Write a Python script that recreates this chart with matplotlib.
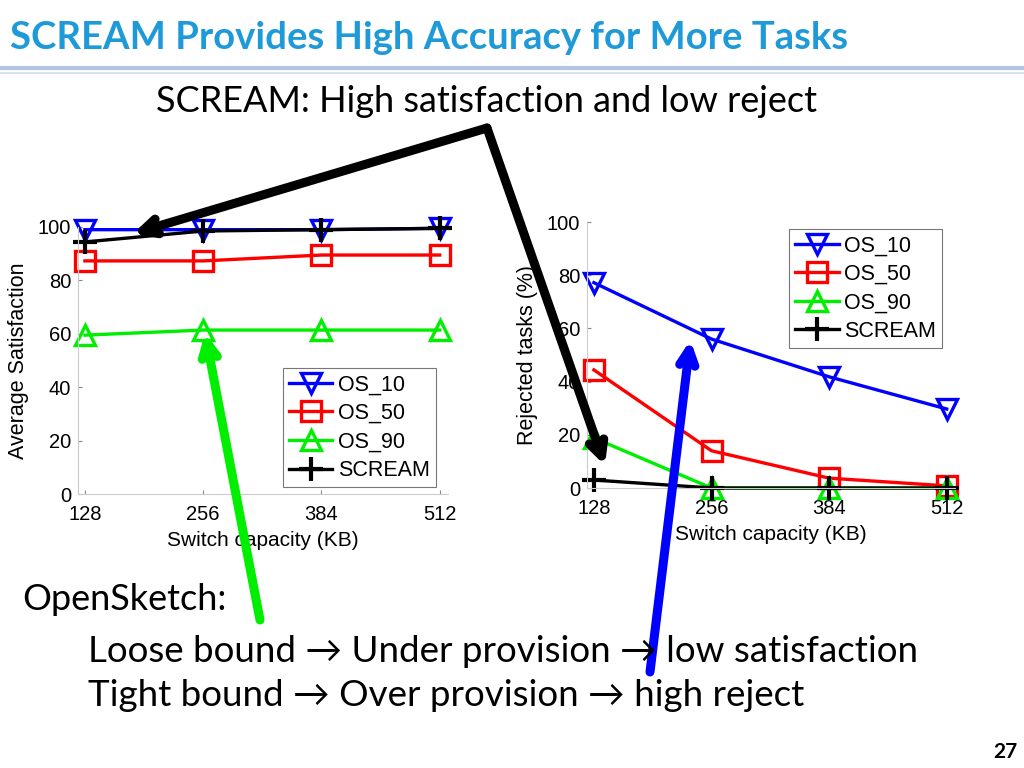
import matplotlib
matplotlib.use('Agg')
import matplotlib.pyplot as plt
from matplotlib.lines import Line2D

# data
capacity = [128, 256, 384, 512]
sat_os10 = [99, 99, 99, 99.5]
sat_os50 = [87.3, 87.3, 89.5, 89.5]
sat_os90 = [59.5, 61.4, 61.4, 61.4]
sat_scream = [94.4, 98.5, 99, 99.5]

rej_os10 = [77.2, 56, 41.8, 29.7]
rej_os50 = [44.4, 14, 3.7, 0.8]
rej_os90 = [18.8, 0, 0, 0]
rej_scream = [3, 0, 0, 0]

series_names = ['OS_10', 'OS_50', 'OS_90', 'SCREAM']
series_colors = ['#0000ff', '#ff0000', '#00ee00', 'black']
series_markers = ['v', 's', '^', '+']

slide_font = ['Lato', 'DejaVu Sans']
chart_font = ['Liberation Sans', 'DejaVu Sans']

fig = plt.figure(figsize=(10.24, 7.68), dpi=100)
W, H = 1024, 768

def fx(px):
    return px / W

def fy(py):
    return 1 - py / H

# slide title and separator
fig.text(fx(10), fy(38), 'SCREAM Provides High Accuracy for More Tasks', fontsize=27.5,
         fontweight='bold', color='#1f9ad8', family=slide_font, va='center', ha='left')
fig.add_artist(Line2D([0, 1], [fy(68), fy(68)], color='#b3c6df', lw=3, transform=fig.transFigure))
fig.add_artist(Line2D([0, 1], [fy(72.5), fy(72.5)], color='#d7e2f0', lw=1.5, transform=fig.transFigure))
fig.text(fx(486), fy(101), 'SCREAM: High satisfaction and low reject', fontsize=26,
         family=slide_font, va='center', ha='center')


def make_chart(rect, ys, ylabel, legend_anchor):
    ax = fig.add_axes(rect)
    for vals, name, c, m in zip(ys, series_names, series_colors, series_markers):
        if m == '+':
            ax.plot(capacity, vals, color=c, lw=2.4, marker=m, markersize=17,
                    markeredgewidth=3, label=name, clip_on=False)
        else:
            ax.plot(capacity, vals, color=c, lw=2.4, marker=m, markersize=15,
                    markeredgewidth=2.4, markerfacecolor='none', label=name, clip_on=False)
    ax.set_xlim(120.5, 521)
    ax.set_ylim(0, 100)
    ax.set_xticks(capacity)
    ax.set_yticks([0, 20, 40, 60, 80, 100])
    ax.tick_params(direction='in', length=3, labelsize=14.5, color='#888888', pad=5)
    ax.tick_params(axis='x', pad=8)
    for lab in ax.get_xticklabels() + ax.get_yticklabels():
        lab.set_family(chart_font)
    for s in ['top', 'right']:
        ax.spines[s].set_visible(False)
    for s in ['left', 'bottom']:
        ax.spines[s].set_color('#cccccc')
        ax.spines[s].set_linewidth(0.8)
    ax.set_xlabel('Switch capacity (KB)', fontsize=15, family=chart_font, labelpad=5)
    ax.set_ylabel(ylabel, fontsize=15.5, family=chart_font, labelpad=6)
    leg = ax.legend(loc='upper left', bbox_to_anchor=legend_anchor,
                    prop={'family': chart_font, 'size': 15.5}, handlelength=2.0,
                    labelspacing=0.35, borderpad=0.3, handletextpad=0.25,
                    borderaxespad=0, fancybox=False, edgecolor='#777777', framealpha=1)
    leg.get_frame().set_linewidth(0.8)
    return ax

ax1 = make_chart([fx(78), fy(494), fx(370), 267 / H],
                 [sat_os10, sat_os50, sat_os90, sat_scream],
                 'Average Satisfaction', (0.554, 0.472))
ax2 = make_chart([fx(587), fy(488), fx(368), 266 / H],
                 [rej_os10, rej_os50, rej_os90, rej_scream],
                 'Rejected tasks (%)', (0.549, 0.974))

# hand-drawn style callout arrows
def callout(ax, tip, tail_px, color):
    ax.annotate('', xy=tip, xycoords='data',
                xytext=(fx(tail_px[0]), fy(tail_px[1])), textcoords='figure fraction',
                arrowprops=dict(arrowstyle='->,head_length=1.1,head_width=0.55',
                                color=color, lw=6.5, capstyle='round', joinstyle='round',
                                shrinkA=0, shrinkB=0),
                annotation_clip=False, zorder=10)

callout(ax1, (180, 97.5), (487, 128), 'black')
callout(ax2, (140, 8.5), (487, 128), 'black')
callout(ax1, (258, 60.3), (260, 620), '#00ee00')
callout(ax2, (233, 55.6), (650, 672), '#0000ff')

# bottom text
fig.text(fx(22), fy(600), 'OpenSketch:', fontsize=26, family=slide_font, va='center', ha='left')
fig.text(fx(88), fy(651), 'Loose bound \u2192 Under provision \u2192 low satisfaction', fontsize=26.5,
         family=slide_font, va='center', ha='left')
fig.text(fx(88), fy(696), 'Tight bound \u2192 Over provision \u2192 high reject', fontsize=26.5,
         family=slide_font, va='center', ha='left')
fig.text(fx(1018), fy(752), '27', fontsize=15, fontweight='bold', family=slide_font,
         va='center', ha='right')

fig.savefig('out.png', dpi=100)
